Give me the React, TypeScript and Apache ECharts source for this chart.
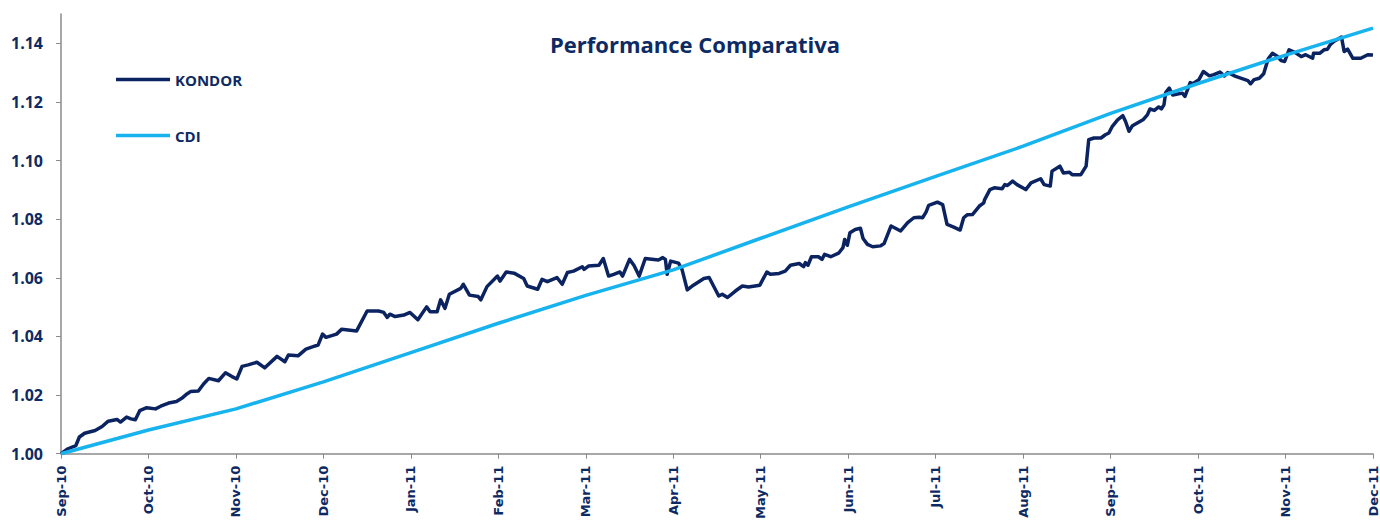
import { useEffect, useRef } from 'react';
import * as echarts from 'echarts';

const NAVY = '#0E2A63';
const KONDOR_COLOR = '#0B2461';
const CDI_COLOR = '#17B3EF';
const AXIS_GRAY = '#8A8A8A';

const monthLabels = [
  'Sep-10', 'Oct-10', 'Nov-10', 'Dec-10', 'Jan-11', 'Feb-11', 'Mar-11', 'Apr-11',
  'May-11', 'Jun-11', 'Jul-11', 'Aug-11', 'Sep-11', 'Oct-11', 'Nov-11', 'Dec-11',
];

const yTickValues = [1.0, 1.02, 1.04, 1.06, 1.08, 1.1, 1.12, 1.14];

// CDI, read at each month mark (months since Sep-10)
const cdiT = [0, 1, 2, 3, 4, 5, 6, 7, 8, 9, 10, 11, 12, 13, 14, 15];
const cdiV = [
  1.0, 1.0081, 1.0153, 1.0245, 1.0345, 1.0445, 1.054, 1.0627,
  1.0735, 1.0842, 1.0946, 1.1049, 1.1161, 1.1263, 1.136, 1.1452,
];

// KONDOR, time in months since Sep-10
const kondorT = [
  0.00, 0.08, 0.17, 0.21, 0.27, 0.39, 0.47, 0.54, 0.64, 0.68,
  0.75, 0.80, 0.85, 0.90, 0.98, 1.08, 1.14, 1.23, 1.32, 1.38,
  1.44, 1.48, 1.57, 1.63, 1.69, 1.80, 1.88, 1.95, 2.01, 2.07,
  2.14, 2.24, 2.33, 2.47, 2.56, 2.60, 2.71, 2.80, 2.89, 2.94,
  2.99, 3.03, 3.15, 3.21, 3.38, 3.50, 3.63, 3.69, 3.73, 3.76,
  3.82, 3.92, 3.99, 4.08, 4.18, 4.22, 4.30, 4.34, 4.39, 4.44,
  4.57, 4.60, 4.67, 4.77, 4.80, 4.87, 4.99, 5.02, 5.09, 5.18,
  5.29, 5.33, 5.45, 5.50, 5.56, 5.67, 5.73, 5.79, 5.86, 5.96,
  5.98, 6.03, 6.15, 6.20, 6.26, 6.32, 6.39, 6.42, 6.50, 6.55,
  6.61, 6.68, 6.83, 6.88, 6.91, 6.93, 6.97, 7.06, 7.10, 7.16,
  7.23, 7.35, 7.41, 7.52, 7.56, 7.62, 7.71, 7.79, 7.86, 7.99,
  8.07, 8.11, 8.21, 8.28, 8.34, 8.44, 8.49, 8.51, 8.54, 8.58,
  8.66, 8.70, 8.73, 8.80, 8.89, 8.94, 8.96, 8.99, 9.02, 9.08,
  9.14, 9.17, 9.22, 9.28, 9.37, 9.41, 9.49, 9.60, 9.68, 9.75,
  9.81, 9.85, 9.89, 9.92, 10.02, 10.08, 10.13, 10.20, 10.28, 10.32,
  10.36, 10.42, 10.50, 10.55, 10.56, 10.62, 10.67, 10.76, 10.79, 10.82,
  10.88, 10.93, 11.03, 11.09, 11.20, 11.24, 11.31, 11.33, 11.42, 11.46,
  11.53, 11.56, 11.66, 11.72, 11.75, 11.81, 11.89, 11.94, 11.98, 12.02,
  12.08, 12.14, 12.17, 12.21, 12.25, 12.37, 12.42, 12.45, 12.50, 12.55,
  12.58, 12.61, 12.63, 12.67, 12.71, 12.82, 12.85, 12.91, 12.94, 13.01,
  13.06, 13.13, 13.18, 13.25, 13.30, 13.34, 13.38, 13.43, 13.57, 13.60,
  13.64, 13.70, 13.75, 13.80, 13.85, 13.91, 13.95, 13.99, 14.04, 14.10,
  14.18, 14.23, 14.31, 14.32, 14.39, 14.44, 14.48, 14.51, 14.56, 14.64,
  14.67, 14.71, 14.77, 14.86, 14.94, 15.00,
];

const kondorV = [
  1.0000, 1.0017, 1.0028, 1.0057, 1.0070, 1.0079, 1.0093, 1.0111, 1.0117, 1.0108,
  1.0125, 1.0119, 1.0116, 1.0147, 1.0157, 1.0153, 1.0162, 1.0173, 1.0178, 1.0189,
  1.0204, 1.0212, 1.0214, 1.0238, 1.0257, 1.0249, 1.0276, 1.0264, 1.0255, 1.0298,
  1.0303, 1.0312, 1.0293, 1.0332, 1.0314, 1.0337, 1.0334, 1.0357, 1.0366, 1.0371,
  1.0408, 1.0397, 1.0408, 1.0425, 1.0419, 1.0487, 1.0487, 1.0482, 1.0465, 1.0476,
  1.0468, 1.0473, 1.0482, 1.0457, 1.0501, 1.0484, 1.0484, 1.0525, 1.0496, 1.0544,
  1.0564, 1.0578, 1.0541, 1.0536, 1.0525, 1.0570, 1.0606, 1.0589, 1.0620, 1.0616,
  1.0598, 1.0572, 1.0561, 1.0595, 1.0587, 1.0601, 1.0578, 1.0618, 1.0623, 1.0638,
  1.0629, 1.0640, 1.0643, 1.0666, 1.0606, 1.0612, 1.0620, 1.0606, 1.0663, 1.0643,
  1.0606, 1.0666, 1.0661, 1.0669, 1.0663, 1.0612, 1.0657, 1.0650, 1.0629, 1.0559,
  1.0575, 1.0598, 1.0601, 1.0538, 1.0544, 1.0533, 1.0555, 1.0572, 1.0569, 1.0575,
  1.0620, 1.0612, 1.0615, 1.0623, 1.0643, 1.0649, 1.0638, 1.0652, 1.0643, 1.0672,
  1.0672, 1.0663, 1.0680, 1.0672, 1.0684, 1.0703, 1.0731, 1.0711, 1.0754, 1.0765,
  1.0769, 1.0734, 1.0714, 1.0706, 1.0709, 1.0717, 1.0777, 1.0760, 1.0788, 1.0805,
  1.0807, 1.0805, 1.0824, 1.0847, 1.0858, 1.0850, 1.0782, 1.0774, 1.0763, 1.0805,
  1.0815, 1.0816, 1.0845, 1.0856, 1.0867, 1.0901, 1.0907, 1.0904, 1.0918, 1.0915,
  1.0930, 1.0918, 1.0901, 1.0924, 1.0938, 1.0918, 1.0913, 1.0964, 1.0981, 1.0958,
  1.0960, 1.0952, 1.0952, 1.0981, 1.1071, 1.1077, 1.1077, 1.1088, 1.1094, 1.1117,
  1.1139, 1.1153, 1.1134, 1.1100, 1.1119, 1.1139, 1.1156, 1.1176, 1.1171, 1.1183,
  1.1176, 1.1190, 1.1232, 1.1247, 1.1224, 1.1230, 1.1219, 1.1266, 1.1262, 1.1276,
  1.1304, 1.1289, 1.1293, 1.1302, 1.1289, 1.1300, 1.1295, 1.1287, 1.1273, 1.1262,
  1.1276, 1.1281, 1.1296, 1.1346, 1.1366, 1.1355, 1.1341, 1.1338, 1.1378, 1.1370,
  1.1355, 1.1361, 1.1349, 1.1366, 1.1366, 1.1378, 1.1380, 1.1395, 1.1408, 1.1421,
  1.1372, 1.1380, 1.1349, 1.1349, 1.1361, 1.1360,
];

export default function App() {
  const ref = useRef<HTMLDivElement>(null);

  useEffect(() => {
    if (!ref.current) return;
    const chart = echarts.init(ref.current, undefined, { renderer: 'svg' });
    const kondorData = kondorT.map((t, i) => [t, kondorV[i]]);
    const cdiData = cdiT.map((t, i) => [t, cdiV[i]]);

    chart.setOption({
      animation: false,
      backgroundColor: '#ffffff',
      title: {
        text: 'Performance Comparativa',
        left: 550,
        top: 33,
        padding: 0,
        textStyle: {
          color: NAVY,
          fontSize: 22,
          fontWeight: 'bold',
          fontFamily: 'Open Sans',
        },
      },
      legend: {
        orient: 'vertical',
        left: 116,
        top: 72,
        padding: 0,
        icon: 'rect',
        itemWidth: 54,
        itemHeight: 3.5,
        itemGap: 41,
        data: ['KONDOR', 'CDI'],
        textStyle: {
          color: NAVY,
          fontWeight: 'bold',
          fontSize: 15,
          fontFamily: 'Open Sans',
        },
      },
      grid: { left: 61, right: 7, top: 14, bottom: 67 },
      xAxis: {
        type: 'value',
        min: 0,
        max: 15,
        interval: 1,
        axisLine: { lineStyle: { color: AXIS_GRAY, width: 1.5 } },
        axisTick: { show: true, length: 5, lineStyle: { color: AXIS_GRAY } },
        splitLine: { show: false },
        axisLabel: {
          rotate: 90,
          margin: 12,
          color: NAVY,
          fontWeight: 'bold',
          fontSize: 13,
          fontFamily: 'DejaVu Sans',
          formatter: (v: number) => monthLabels[Math.round(v)] ?? '',
        },
      },
      yAxis: {
        type: 'value',
        min: 1.0,
        max: 1.15,
        axisLine: { show: true, lineStyle: { color: AXIS_GRAY, width: 1.5 } },
        axisTick: {
          show: true,
          length: 5,
          customValues: yTickValues,
          lineStyle: { color: AXIS_GRAY },
        },
        splitLine: { show: false },
        axisLabel: {
          customValues: yTickValues,
          margin: 18,
          color: NAVY,
          fontWeight: 'bold',
          fontSize: 16,
          fontFamily: 'Open Sans',
          formatter: (v: number) => v.toFixed(2),
        },
      },
      series: [
        {
          name: 'KONDOR',
          type: 'line',
          data: kondorData,
          symbol: 'none',
          showSymbol: false,
          lineStyle: { color: KONDOR_COLOR, width: 3.5, join: 'round' },
          itemStyle: { color: KONDOR_COLOR },
        },
        {
          name: 'CDI',
          type: 'line',
          data: cdiData,
          symbol: 'none',
          showSymbol: false,
          lineStyle: { color: CDI_COLOR, width: 3.5, join: 'round' },
          itemStyle: { color: CDI_COLOR },
        },
      ],
    });

    return () => chart.dispose();
  }, []);

  return (
    <div
      ref={ref}
      style={{ position: 'fixed', left: 0, top: 0, width: 1380, height: 522, background: '#fff' }}
    />
  );
}
